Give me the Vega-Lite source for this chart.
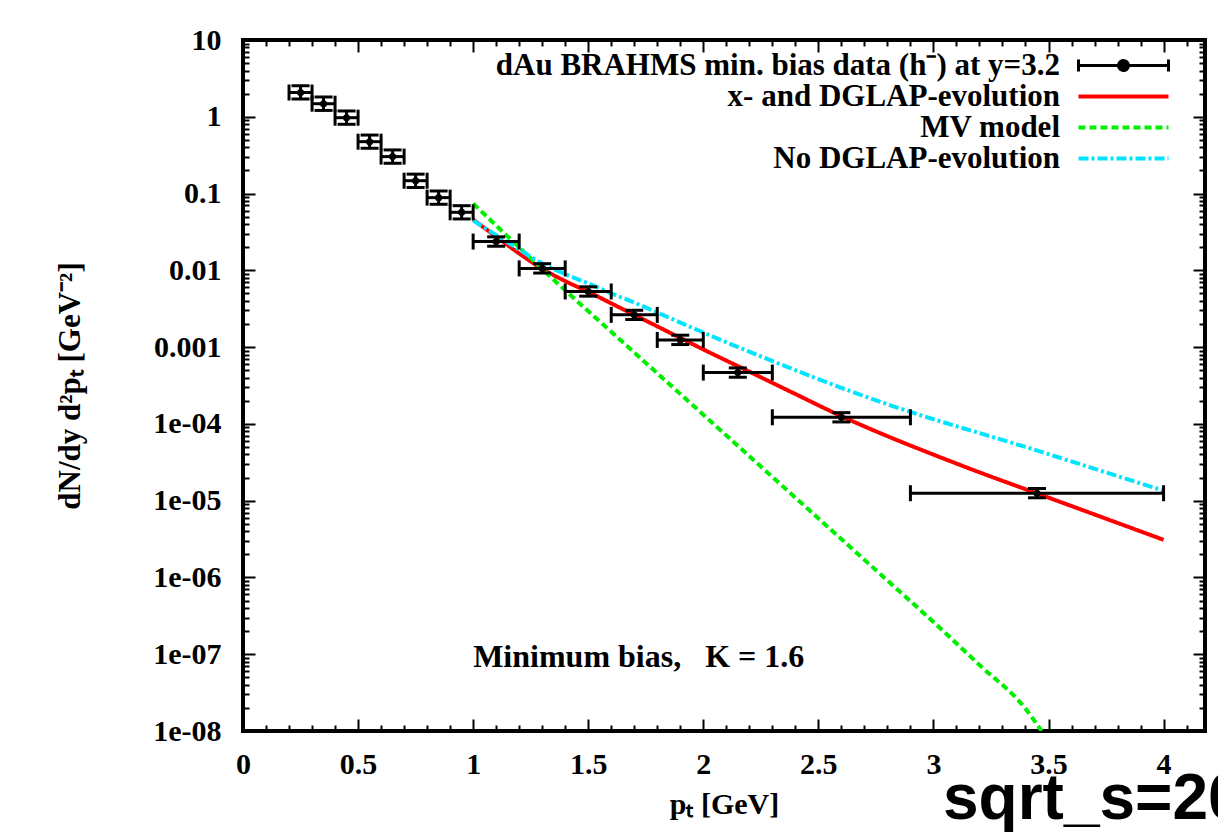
{
  "$schema": "https://vega.github.io/schema/vega-lite/v6.json",
  "width": 962,
  "height": 691,
  "autosize": {"type": "none"},
  "padding": {"left": 243, "top": 40, "right": 13, "bottom": 101},
  "background": "white",
  "title": {"text": "sqrt_s=200", "orient": "bottom", "anchor": "start", "frame": "group", "dx": 700, "offset": 0, "font": "Liberation Sans", "fontSize": 64, "fontWeight": "bold", "color": "black", "baseline": "alphabetic"},
  "datasets": {
    "points": [
      {"pt": 0.25, "lo": 0.2, "hi": 0.3, "y": 2.07, "ylo": 1.70, "yhi": 2.53},
      {"pt": 0.35, "lo": 0.3, "hi": 0.4, "y": 1.48, "ylo": 1.21, "yhi": 1.81},
      {"pt": 0.45, "lo": 0.4, "hi": 0.5, "y": 0.973, "ylo": 0.798, "yhi": 1.19},
      {"pt": 0.55, "lo": 0.5, "hi": 0.6, "y": 0.474, "ylo": 0.389, "yhi": 0.578},
      {"pt": 0.65, "lo": 0.6, "hi": 0.7, "y": 0.303, "ylo": 0.248, "yhi": 0.370},
      {"pt": 0.75, "lo": 0.7, "hi": 0.8, "y": 0.147, "ylo": 0.120, "yhi": 0.179},
      {"pt": 0.85, "lo": 0.8, "hi": 0.9, "y": 0.0885, "ylo": 0.0725, "yhi": 0.108},
      {"pt": 0.95, "lo": 0.9, "hi": 1.0, "y": 0.057, "ylo": 0.0467, "yhi": 0.0695},
      {"pt": 1.1, "lo": 1.0, "hi": 1.2, "y": 0.0237, "ylo": 0.0206, "yhi": 0.0273},
      {"pt": 1.3, "lo": 1.2, "hi": 1.4, "y": 0.0106, "ylo": 0.00922, "yhi": 0.0122},
      {"pt": 1.5, "lo": 1.4, "hi": 1.6, "y": 0.0053, "ylo": 0.00461, "yhi": 0.0061},
      {"pt": 1.7, "lo": 1.6, "hi": 1.8, "y": 0.00263, "ylo": 0.00229, "yhi": 0.00302},
      {"pt": 1.9, "lo": 1.8, "hi": 2.0, "y": 0.00124, "ylo": 0.00108, "yhi": 0.00143},
      {"pt": 2.15, "lo": 2.0, "hi": 2.3, "y": 0.000466, "ylo": 0.000405, "yhi": 0.000536},
      {"pt": 2.6, "lo": 2.3, "hi": 2.9, "y": 0.000122, "ylo": 0.000106, "yhi": 0.00014},
      {"pt": 3.45, "lo": 2.9, "hi": 4.0, "y": 0.0000125, "ylo": 0.0000109, "yhi": 0.0000144}
    ],
    "curves": [
      {"series": "x- and DGLAP-evolution", "pt": 1.0, "v": 0.0457},
      {"series": "x- and DGLAP-evolution", "pt": 1.1, "v": 0.02754},
      {"series": "x- and DGLAP-evolution", "pt": 1.2, "v": 0.0166},
      {"series": "x- and DGLAP-evolution", "pt": 1.3, "v": 0.01047},
      {"series": "x- and DGLAP-evolution", "pt": 1.4, "v": 0.007244},
      {"series": "x- and DGLAP-evolution", "pt": 1.5, "v": 0.005248},
      {"series": "x- and DGLAP-evolution", "pt": 1.6, "v": 0.003715},
      {"series": "x- and DGLAP-evolution", "pt": 1.7, "v": 0.00263},
      {"series": "x- and DGLAP-evolution", "pt": 1.8, "v": 0.001862},
      {"series": "x- and DGLAP-evolution", "pt": 1.9, "v": 0.001318},
      {"series": "x- and DGLAP-evolution", "pt": 2.0, "v": 0.000933},
      {"series": "x- and DGLAP-evolution", "pt": 2.2, "v": 0.000479},
      {"series": "x- and DGLAP-evolution", "pt": 2.4, "v": 0.000245},
      {"series": "x- and DGLAP-evolution", "pt": 2.6, "v": 0.000126},
      {"series": "x- and DGLAP-evolution", "pt": 2.8, "v": 0.0000692},
      {"series": "x- and DGLAP-evolution", "pt": 3.0, "v": 0.0000398},
      {"series": "x- and DGLAP-evolution", "pt": 3.2, "v": 0.0000234},
      {"series": "x- and DGLAP-evolution", "pt": 3.4, "v": 0.0000141},
      {"series": "x- and DGLAP-evolution", "pt": 3.6, "v": 0.00000851},
      {"series": "x- and DGLAP-evolution", "pt": 3.8, "v": 0.00000513},
      {"series": "x- and DGLAP-evolution", "pt": 4.0, "v": 0.00000309},
      {"series": "MV model", "pt": 1.0, "v": 0.0741},
      {"series": "MV model", "pt": 1.2, "v": 0.01995},
      {"series": "MV model", "pt": 1.4, "v": 0.005495},
      {"series": "MV model", "pt": 1.6, "v": 0.001585},
      {"series": "MV model", "pt": 1.8, "v": 0.000457},
      {"series": "MV model", "pt": 2.0, "v": 0.0001318},
      {"series": "MV model", "pt": 2.2, "v": 0.000038},
      {"series": "MV model", "pt": 2.4, "v": 0.00001096},
      {"series": "MV model", "pt": 2.6, "v": 0.00000316},
      {"series": "MV model", "pt": 2.8, "v": 0.000000912},
      {"series": "MV model", "pt": 3.0, "v": 0.000000263},
      {"series": "MV model", "pt": 3.2, "v": 0.0000000724},
      {"series": "MV model", "pt": 3.4, "v": 0.0000000195},
      {"series": "MV model", "pt": 3.47, "v": 0.00000001},
      {"series": "No DGLAP-evolution", "pt": 1.0, "v": 0.04467},
      {"series": "No DGLAP-evolution", "pt": 1.1, "v": 0.02884},
      {"series": "No DGLAP-evolution", "pt": 1.2, "v": 0.01862},
      {"series": "No DGLAP-evolution", "pt": 1.3, "v": 0.0123},
      {"series": "No DGLAP-evolution", "pt": 1.4, "v": 0.008913},
      {"series": "No DGLAP-evolution", "pt": 1.5, "v": 0.006761},
      {"series": "No DGLAP-evolution", "pt": 1.6, "v": 0.005012},
      {"series": "No DGLAP-evolution", "pt": 1.7, "v": 0.003802},
      {"series": "No DGLAP-evolution", "pt": 1.8, "v": 0.002818},
      {"series": "No DGLAP-evolution", "pt": 1.9, "v": 0.002089},
      {"series": "No DGLAP-evolution", "pt": 2.0, "v": 0.001549},
      {"series": "No DGLAP-evolution", "pt": 2.2, "v": 0.000871},
      {"series": "No DGLAP-evolution", "pt": 2.4, "v": 0.000501},
      {"series": "No DGLAP-evolution", "pt": 2.6, "v": 0.000295},
      {"series": "No DGLAP-evolution", "pt": 2.8, "v": 0.000180},
      {"series": "No DGLAP-evolution", "pt": 3.0, "v": 0.000115},
      {"series": "No DGLAP-evolution", "pt": 3.2, "v": 0.0000759},
      {"series": "No DGLAP-evolution", "pt": 3.4, "v": 0.0000501},
      {"series": "No DGLAP-evolution", "pt": 3.6, "v": 0.0000324},
      {"series": "No DGLAP-evolution", "pt": 3.8, "v": 0.0000209},
      {"series": "No DGLAP-evolution", "pt": 4.0, "v": 0.0000135}
    ]
  },
  "layer": [
    {
      "data": {"name": "curves"},
      "mark": {"type": "line", "strokeWidth": 4, "clip": true, "interpolate": "monotone"},
      "encoding": {
        "x": {"field": "pt", "type": "quantitative", "title": "pₜ [GeV]",
          "scale": {"domain": [0, 4.18], "nice": false, "zero": false},
          "axis": {
            "orient": "bottom",
            "values": [0,0.1,0.2,0.3,0.4,0.5,0.6,0.7,0.8,0.9,1,1.1,1.2,1.3,1.4,1.5,1.6,1.7,1.8,1.9,2,2.1,2.2,2.3,2.4,2.5,2.6,2.7,2.8,2.9,3,3.1,3.2,3.3,3.4,3.5,3.6,3.7,3.8,3.9,4,4.1],
            "labelExpr": "abs(datum.value*2 - round(datum.value*2)) < 1e-6 ? format(datum.value, '~g') : ''",
            "tickSize": {"condition": {"test": "abs(datum.value*2 - round(datum.value*2)) < 1e-6", "value": -12}, "value": -6},
            "tickWidth": 2, "tickColor": "black",
            "domain": false, "grid": false, "labelFlush": false, "labelOverlap": false, "labelBound": false,
            "labelFont": "Liberation Serif", "labelFontSize": 30, "labelFontWeight": "bold", "labelColor": "black", "labelPadding": 30,
            "titleFont": "Liberation Serif", "titleFontSize": 30, "titleFontWeight": "bold", "titleColor": "black", "titlePadding": 4
          }},
        "y": {"field": "v", "type": "quantitative", "title": "dN/dy d²pₜ [GeV⁻²]",
          "scale": {"type": "log", "domain": [1e-8, 10], "nice": false},
          "axis": {
            "orient": "left",
            "values": [1e-8,2e-8,3e-8,4e-8,5e-8,6e-8,7e-8,8e-8,9e-8,1e-7,2e-7,3e-7,4e-7,5e-7,6e-7,7e-7,8e-7,9e-7,1e-6,2e-6,3e-6,4e-6,5e-6,6e-6,7e-6,8e-6,9e-6,1e-5,2e-5,3e-5,4e-5,5e-5,6e-5,7e-5,8e-5,9e-5,1e-4,2e-4,3e-4,4e-4,5e-4,6e-4,7e-4,8e-4,9e-4,0.001,0.002,0.003,0.004,0.005,0.006,0.007,0.008,0.009,0.01,0.02,0.03,0.04,0.05,0.06,0.07,0.08,0.09,0.1,0.2,0.3,0.4,0.5,0.6,0.7,0.8,0.9,1,2,3,4,5,6,7,8,9,10],
            "labelExpr": "abs(log(datum.value)/LN10 - round(log(datum.value)/LN10)) < 1e-6 ? (round(log(datum.value)/LN10) >= -3 ? format(datum.value, '~g') : '1e-0' + (-round(log(datum.value)/LN10))) : ''",
            "tickSize": {"condition": {"test": "abs(log(datum.value)/LN10 - round(log(datum.value)/LN10)) < 1e-6", "value": -12}, "value": -6},
            "tickWidth": 2, "tickColor": "black",
            "domain": false, "grid": false, "labelFlush": false, "labelOverlap": false, "labelBound": false,
            "labelFont": "Liberation Serif", "labelFontSize": 30, "labelFontWeight": "bold", "labelColor": "black", "labelPadding": 34,
            "titleFont": "Liberation Serif", "titleFontSize": 31, "titleFontWeight": "bold", "titleColor": "black", "titlePadding": 66
          }},
        "color": {"field": "series", "type": "nominal",
          "scale": {"domain": ["dAu BRAHMS min. bias data (h⁻) at y=3.2", "x- and DGLAP-evolution", "MV model", "No DGLAP-evolution"], "range": ["black", "#ff0000", "#00ee00", "#00e5ff"]},
          "legend": {
            "orient": "none", "legendX": 865, "legendY": 10, "title": null, "padding": 0, "rowPadding": -1,
            "labelFont": "Liberation Serif", "labelFontSize": 31, "labelFontWeight": "bold", "labelColor": "black",
            "labelAlign": "right", "labelOffset": -79, "labelLimit": 0, "symbolSize": 900, "symbolStrokeWidth": 4,
            "encode": {"symbols": {"update": {
              "shape": {"signal": "datum.index === 0 ? 'M-3,0H3M-3,-0.4V0.4M3,-0.4V0.4M-0.33,0A0.33,0.33,0,1,0,0.33,0A0.33,0.33,0,1,0,-0.33,0' : 'M-3,0H3'"},
              "strokeDash": {"signal": "datum.index === 2 ? [7,4] : datum.index === 3 ? [10,3,3,3] : [1,0]"},
              "fill": {"signal": "datum.index === 0 ? 'black' : 'transparent'"},
              "stroke": {"signal": "scale('color', datum.value)"},
              "strokeWidth": {"signal": "datum.index === 0 ? 3 : 4"},
              "opacity": {"value": 1}
            }}}
          }},
        "strokeDash": {"field": "series", "type": "nominal",
          "scale": {"domain": ["dAu BRAHMS min. bias data (h⁻) at y=3.2", "x- and DGLAP-evolution", "MV model", "No DGLAP-evolution"], "range": [[1,0],[1,0],[7,4],[10,3,3,3]]},
          "legend": null}
      }
    },
    {
      "data": {"name": "points"},
      "mark": {"type": "rule", "strokeWidth": 3, "color": "black"},
      "encoding": {
        "x": {"field": "lo", "type": "quantitative", "axis": null, "scale": {"domain": [0, 4.18], "nice": false, "zero": false}},
        "x2": {"field": "hi"},
        "y": {"field": "y", "type": "quantitative", "axis": null, "scale": {"type": "log", "domain": [1e-8, 10], "nice": false}}
      }
    },
    {
      "data": {"name": "points"},
      "mark": {"type": "rule", "strokeWidth": 3, "color": "black"},
      "encoding": {
        "x": {"field": "pt", "type": "quantitative", "axis": null, "scale": {"domain": [0, 4.18], "nice": false, "zero": false}},
        "y": {"field": "ylo", "type": "quantitative", "axis": null, "scale": {"type": "log", "domain": [1e-8, 10], "nice": false}},
        "y2": {"field": "yhi"}
      }
    },
    {
      "data": {"name": "points"},
      "mark": {"type": "tick", "orient": "vertical", "size": 16, "thickness": 3, "color": "black", "opacity": 1},
      "encoding": {
        "x": {"field": "lo", "type": "quantitative", "axis": null, "scale": {"domain": [0, 4.18], "nice": false, "zero": false}},
        "y": {"field": "y", "type": "quantitative", "axis": null, "scale": {"type": "log", "domain": [1e-8, 10], "nice": false}}
      }
    },
    {
      "data": {"name": "points"},
      "mark": {"type": "tick", "orient": "vertical", "size": 16, "thickness": 3, "color": "black", "opacity": 1},
      "encoding": {
        "x": {"field": "hi", "type": "quantitative", "axis": null, "scale": {"domain": [0, 4.18], "nice": false, "zero": false}},
        "y": {"field": "y", "type": "quantitative", "axis": null, "scale": {"type": "log", "domain": [1e-8, 10], "nice": false}}
      }
    },
    {
      "data": {"name": "points"},
      "mark": {"type": "tick", "orient": "horizontal", "size": 18, "thickness": 3, "color": "black", "opacity": 1},
      "encoding": {
        "x": {"field": "pt", "type": "quantitative", "axis": null, "scale": {"domain": [0, 4.18], "nice": false, "zero": false}},
        "y": {"field": "ylo", "type": "quantitative", "axis": null, "scale": {"type": "log", "domain": [1e-8, 10], "nice": false}}
      }
    },
    {
      "data": {"name": "points"},
      "mark": {"type": "tick", "orient": "horizontal", "size": 18, "thickness": 3, "color": "black", "opacity": 1},
      "encoding": {
        "x": {"field": "pt", "type": "quantitative", "axis": null, "scale": {"domain": [0, 4.18], "nice": false, "zero": false}},
        "y": {"field": "yhi", "type": "quantitative", "axis": null, "scale": {"type": "log", "domain": [1e-8, 10], "nice": false}}
      }
    },
    {
      "data": {"values": [{}]},
      "mark": {"type": "text", "align": "left", "baseline": "middle", "dy": 3, "font": "Liberation Serif", "fontSize": 32, "fontWeight": "bold", "color": "black"},
      "encoding": {
        "x": {"datum": 1.0, "type": "quantitative", "axis": null, "scale": {"domain": [0, 4.18], "nice": false, "zero": false}},
        "y": {"datum": 1e-7, "type": "quantitative", "axis": null, "scale": {"type": "log", "domain": [1e-8, 10], "nice": false}},
        "text": {"value": "Minimum bias,\u00a0\u00a0 K = 1.6"}
      }
    },
    {
      "data": {"name": "points"},
      "mark": {"type": "point", "filled": true, "shape": "circle", "size": 50, "color": "black", "opacity": 1},
      "encoding": {
        "x": {"field": "pt", "type": "quantitative", "scale": {"domain": [0, 4.18], "nice": false, "zero": false},
          "axis": {"orient": "top", "labels": false, "title": null, "domain": false, "grid": false,
            "values": [0,0.1,0.2,0.3,0.4,0.5,0.6,0.7,0.8,0.9,1,1.1,1.2,1.3,1.4,1.5,1.6,1.7,1.8,1.9,2,2.1,2.2,2.3,2.4,2.5,2.6,2.7,2.8,2.9,3,3.1,3.2,3.3,3.4,3.5,3.6,3.7,3.8,3.9,4,4.1],
            "tickSize": {"condition": {"test": "abs(datum.value*2 - round(datum.value*2)) < 1e-6", "value": -12}, "value": -6},
            "tickWidth": 2, "tickColor": "black"}},
        "y": {"field": "y", "type": "quantitative", "scale": {"type": "log", "domain": [1e-8, 10], "nice": false},
          "axis": {"orient": "right", "labels": false, "title": null, "domain": false, "grid": false,
            "values": [1e-8,2e-8,3e-8,4e-8,5e-8,6e-8,7e-8,8e-8,9e-8,1e-7,2e-7,3e-7,4e-7,5e-7,6e-7,7e-7,8e-7,9e-7,1e-6,2e-6,3e-6,4e-6,5e-6,6e-6,7e-6,8e-6,9e-6,1e-5,2e-5,3e-5,4e-5,5e-5,6e-5,7e-5,8e-5,9e-5,1e-4,2e-4,3e-4,4e-4,5e-4,6e-4,7e-4,8e-4,9e-4,0.001,0.002,0.003,0.004,0.005,0.006,0.007,0.008,0.009,0.01,0.02,0.03,0.04,0.05,0.06,0.07,0.08,0.09,0.1,0.2,0.3,0.4,0.5,0.6,0.7,0.8,0.9,1,2,3,4,5,6,7,8,9,10],
            "tickSize": {"condition": {"test": "abs(log(datum.value)/LN10 - round(log(datum.value)/LN10)) < 1e-6", "value": -12}, "value": -6},
            "tickWidth": 2, "tickColor": "black"}}
      }
    }
  ],
  "resolve": {"axis": {"x": "independent", "y": "independent"}},
  "config": {"view": {"stroke": "black", "strokeWidth": 4}, "axis": {"labelOverlap": false}}
}
